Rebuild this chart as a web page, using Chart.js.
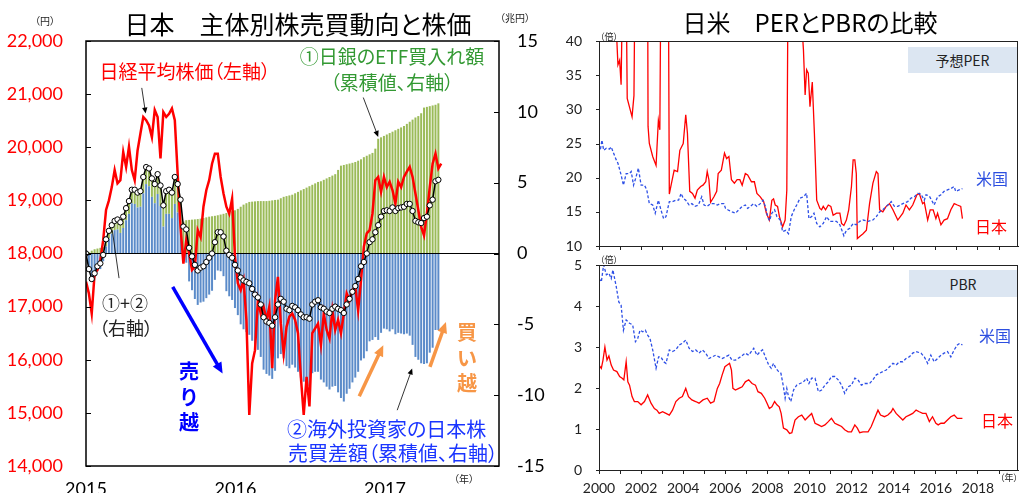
<!DOCTYPE html>
<html>
<head>
<meta charset="utf-8">
<script src="https://cdn.jsdelivr.net/npm/chart.js@4.4.1/dist/chart.umd.min.js"></script>
<style>
  body { margin: 0; width: 1019px; height: 493px; overflow: hidden; background: #fff; position: relative; }
  canvas { position: absolute; }
  .lbl { position: absolute; white-space: nowrap; line-height: 1; font-family: "Noto Sans CJK JP", sans-serif;
         font-feature-settings: "palt"; transform: translate(-50%, -50%); }
  .left { transform: translate(0, -50%); }
  .box { position: absolute; background: #dce6f2; font-family: "Noto Sans CJK JP", sans-serif; font-size: 14px;
         display: flex; align-items: center; justify-content: center; color: #222; }
  .vert { position: absolute; font-family: "Noto Sans CJK JP", sans-serif; font-weight: bold; font-size: 20px;
          line-height: 25.5px; width: 24px; text-align: center; }
</style>
</head>
<body>
<canvas id="left" width="560" height="493" style="left:0;top:0"></canvas>
<canvas id="per" width="459" height="256" style="left:560px;top:0"></canvas>
<canvas id="pbr" width="459" height="243" style="left:560px;top:250px"></canvas>

<!-- left chart texts -->
<div class="lbl" style="left:298px;top:23px;font-size:25px;color:#000">日本　主体別株売買動向と株価</div>
<div class="lbl" style="left:45px;top:21px;font-size:10px;color:#222">（円）</div>
<div class="lbl" style="left:515px;top:18px;font-size:10px;color:#222">（兆円）</div>
<div class="lbl" style="left:185px;top:70px;font-size:19px;color:#ff0000">日経平均株価（左軸）</div>
<div class="lbl" style="left:392px;top:55px;font-size:19px;color:#339933">①日銀のETF買入れ額</div>
<div class="lbl" style="left:392px;top:81px;font-size:19px;color:#339933">（累積値、右軸）</div>
<div class="lbl" style="left:125px;top:302px;font-size:18px;color:#222">①+②</div>
<div class="lbl" style="left:126px;top:327px;font-size:18px;color:#222">（右軸）</div>
<div class="vert" style="left:177px;top:358px;color:#0000ff">売<br>り<br>越</div>
<div class="vert" style="left:455px;top:319px;color:#f79646">買<br>い<br>越</div>
<div class="lbl left" style="left:287px;top:429px;font-size:20px;color:#1a35ff">②海外投資家の日本株</div>
<div class="lbl left" style="left:288px;top:453px;font-size:20px;color:#1a35ff">売買差額（累積値、右軸）</div>
<div class="lbl" style="left:464px;top:479px;font-size:10px;color:#222">（年）</div>

<!-- right chart texts -->
<div class="lbl" style="left:810px;top:22px;font-size:24px;color:#000">日米　PERとPBRの比較</div>
<div class="lbl" style="left:609px;top:36px;font-size:9px;color:#222">（倍）</div>
<div class="lbl" style="left:609px;top:259px;font-size:9px;color:#222">（倍）</div>
<div class="lbl" style="left:1009px;top:477px;font-size:9px;color:#222">（年）</div>
<div class="box" style="left:908px;top:47px;width:109px;height:26px">予想PER</div>
<div class="box" style="left:909px;top:270px;width:108px;height:27px">PBR</div>
<div class="lbl" style="left:992px;top:178px;font-size:16px;color:#2d4fe0">米国</div>
<div class="lbl" style="left:991px;top:226px;font-size:16px;color:#ff0000">日本</div>
<div class="lbl" style="left:995px;top:335px;font-size:16px;color:#2d4fe0">米国</div>
<div class="lbl" style="left:997px;top:420px;font-size:16px;color:#ff0000">日本</div>

<script>
// ---- left chart: weekly data from Jan 2015 (兆円 cumulative, Nikkei in yen) ----
const etfCum = [
  0.05, 0.1, 0.2, 0.3, 0.35, 0.4, 0.45, 0.5, 0.55, 0.6,
  0.65, 0.7, 0.75, 0.8, 0.85, 0.9, 0.95, 1.0, 1.05, 1.1,
  1.15, 1.2, 1.25, 1.3, 1.35, 1.4, 1.45, 1.5, 1.6, 1.7,
  1.8, 1.9, 2.0, 2.1, 2.25, 2.35, 2.37, 2.39, 2.41, 2.43,
  2.46, 2.5, 2.55, 2.6, 2.63, 2.66, 2.7, 2.75, 2.8, 2.86,
  2.92, 2.98, 3.05, 3.15, 3.3, 3.45, 3.55, 3.64, 3.66, 3.68,
  3.7, 3.7, 3.7, 3.7, 3.72, 3.75, 3.78, 3.8, 3.9, 4.0,
  4.05, 4.1, 4.15, 4.25, 4.35, 4.46, 4.55, 4.65, 4.75, 4.85,
  4.95, 5.05, 5.1, 5.2, 5.3, 5.4, 5.5, 5.6, 5.9, 6.2,
  6.25, 6.3, 6.35, 6.4, 6.46, 6.55, 6.65, 6.8, 6.9, 7.0,
  7.1, 7.4, 8.1, 8.2, 8.3, 8.4, 8.5, 8.6, 8.7, 8.8,
  8.9, 9.0, 9.15, 9.3, 9.45, 9.6, 9.7, 9.9, 10.3, 10.35,
  10.4, 10.45, 10.5, 10.6
];
const foreignCum = [
  -0.05, -1.2, -2.0, -1.7, -1.25, -1.1, -0.55, 0.5, 1.05, 1.4,
  1.65, 1.7, 1.45, 1.8, 2.35, 2.8, 3.55, 3.5, 3.25, 3.3,
  4.25, 4.9, 4.75, 4.0, 3.55, 4.2, 3.35, 1.9, 2.8, 2.8,
  2.5, 3.5, 2.9, 1.7, -0.35, -0.65, -1.97, -2.59, -3.21, -3.63,
  -3.46, -3.4, -3.15, -2.9, -2.63, -1.86, -1.2, -1.25, -1.6, -2.66,
  -3.02, -3.28, -3.85, -4.35, -5.0, -5.35, -5.55, -5.74, -6.16, -6.58,
  -6.8, -7.3, -8.2, -8.5, -8.62, -8.85, -8.28, -7.4, -7.1, -7.4,
  -7.95, -8.1, -7.85, -8.05, -8.35, -8.76, -9.05, -9.15, -9.35, -8.45,
  -8.35, -8.35, -8.9, -9.1, -9.4, -9.6, -9.4, -9.35, -9.8, -10.2,
  -10.45, -9.9, -9.55, -9.1, -8.76, -8.35, -7.55, -7.4, -6.9, -6.2,
  -6.1, -5.9, -6.1, -5.6, -5.3, -5.35, -5.5, -5.35, -5.7, -5.6,
  -5.65, -5.7, -5.65, -5.8, -6.45, -7.3, -7.5, -7.75, -7.8, -7.75,
  -7.0, -6.65, -5.4, -5.4
];
const nikkei = [
  17470, 17250, 16870, 17620, 17690, 17870, 18250, 18820, 19000, 19250,
  19570, 19320, 19380, 19910, 19630, 20010, 19570, 19380, 19940, 20260,
  20570, 20510, 20410, 20190, 20700, 20570, 19790, 20660, 20570, 20630,
  20730, 20510, 19500, 18500, 17810, 18250, 18000, 17690, 17750, 18440,
  18310, 18880, 19190, 19380, 19690, 19880, 19880, 19440, 19130, 18880,
  18750, 19030, 17940, 17440, 17310, 17500, 16750, 14960, 15930, 16180,
  17120, 16870, 17000, 16750, 17000, 15840, 17120, 17560, 16680, 16120,
  16620, 16810, 16870, 16750, 16500, 15680, 14960, 15680, 15120, 16500,
  16590, 16680, 16280, 16870, 16560, 16400, 16930, 16560, 16750, 16500,
  16870, 17250, 17120, 17310, 17370, 16930, 17500, 18130, 18380, 18440,
  18750, 19380, 19440, 19160, 19440, 19250, 19350, 19190, 18940, 19350,
  19250, 19440, 19540, 19630, 19440, 19130, 18820, 18500, 18340, 18750,
  19250, 19690, 19880, 19600, 19690
];
const leftYears = [2015, 2016, 2017];

// ---- right charts: [year, value] ----
const perJapan = [
  [2000.0, 80], [2000.5, 90], [2000.70, 50], [2000.90, 36.5], [2000.98, 37.2], [2001.05, 33.6],
  [2001.15, 55], [2001.27, 55], [2001.34, 31.6], [2001.57, 28.9], [2001.66, 32], [2001.74, 60],
  [2002.0, 90], [2002.30, 60], [2002.33, 27.5], [2002.39, 25], [2002.55, 23.1], [2002.71, 21.8],
  [2002.82, 28.4], [2002.89, 27], [2002.96, 60], [2003.1, 80], [2003.28, 60], [2003.34, 17.6],
  [2003.41, 18.7], [2003.57, 21.1], [2003.73, 20.9], [2003.84, 24], [2004.0, 25], [2004.12, 29.2],
  [2004.2, 26.5], [2004.31, 18], [2004.44, 17.7], [2004.56, 17], [2004.67, 18.2], [2004.83, 18.7],
  [2004.94, 18.9], [2005.07, 19.4], [2005.14, 20.9], [2005.22, 19.7], [2005.30, 16.4], [2005.46, 17.2],
  [2005.59, 18], [2005.66, 20.6], [2005.81, 21.1], [2005.96, 23.6], [2006.06, 22.8], [2006.17, 23.1],
  [2006.29, 19.7], [2006.43, 19.2], [2006.56, 19.7], [2006.69, 19.7], [2006.80, 18.9], [2006.95, 20.6],
  [2007.06, 20.4], [2007.24, 19.4], [2007.38, 19.4], [2007.50, 17.7], [2007.66, 17.2], [2007.82, 16.5],
  [2007.95, 14.8], [2008.09, 13.8], [2008.21, 16.7], [2008.29, 16.9], [2008.37, 16], [2008.48, 15.8],
  [2008.57, 14.3], [2008.72, 12.8], [2008.84, 13.8], [2008.92, 18.2], [2009.0, 60], [2009.3, 100],
  [2009.58, 45], [2009.71, 38.7], [2009.79, 32.1], [2009.86, 35.8], [2009.94, 35.3], [2010.02, 30.4],
  [2010.13, 34], [2010.23, 26.5], [2010.34, 16.7], [2010.49, 15.5], [2010.57, 15.3], [2010.65, 15.8],
  [2010.76, 15.3], [2010.89, 16], [2011.01, 15.8], [2011.12, 14.5], [2011.28, 14.8], [2011.44, 14.8],
  [2011.52, 13.3], [2011.63, 13], [2011.75, 13.8], [2011.86, 15.3], [2011.99, 18.7], [2012.07, 22.6],
  [2012.15, 22.6], [2012.22, 20.6], [2012.27, 11.1], [2012.38, 11.4], [2012.54, 11.8], [2012.70, 12.3],
  [2012.85, 16.2], [2013.01, 19.2], [2013.17, 20.9], [2013.25, 20.6], [2013.33, 15.3], [2013.48, 15],
  [2013.64, 15.8], [2013.80, 16.2], [2013.96, 15.3], [2014.19, 13.8], [2014.43, 14.8], [2014.58, 16],
  [2014.74, 15.3], [2014.90, 16], [2015.10, 17.5], [2015.21, 17.7], [2015.37, 16.2], [2015.45, 16.4],
  [2015.61, 13.8], [2015.73, 15.3], [2015.87, 15.3], [2016.0, 14], [2016.08, 14.8], [2016.24, 13.1],
  [2016.39, 13.8], [2016.55, 14], [2016.71, 15.3], [2016.87, 16.2], [2017.02, 16], [2017.18, 15.8],
  [2017.26, 14]
];
const perUS = [
  [2000.0, 24.5], [2000.06, 24], [2000.14, 25.5], [2000.22, 24], [2000.35, 24.3], [2000.5, 24.2],
  [2000.58, 24.5], [2000.69, 23.6], [2000.82, 22.6], [2000.90, 22.1], [2001.05, 20.4], [2001.16, 18.9],
  [2001.29, 20.6], [2001.45, 20.6], [2001.53, 20.9], [2001.64, 18.9], [2001.76, 20.1], [2001.87, 21.4],
  [2002.0, 18.9], [2002.16, 18.9], [2002.27, 18.2], [2002.39, 16.2], [2002.55, 16], [2002.67, 14.8],
  [2002.82, 16.7], [2002.94, 15.3], [2003.07, 14], [2003.18, 14.3], [2003.34, 16.5], [2003.49, 16.5],
  [2003.65, 16.7], [2003.78, 16.7], [2003.90, 17.7], [2004.0, 17], [2004.12, 16.7], [2004.28, 16],
  [2004.41, 16.2], [2004.56, 15.8], [2004.72, 16], [2004.88, 17.2], [2004.99, 16], [2005.14, 15.8],
  [2005.30, 16.2], [2005.46, 16.2], [2005.62, 16], [2005.77, 16.2], [2005.93, 16.2], [2006.01, 15.5],
  [2006.17, 15.2], [2006.32, 15], [2006.48, 14.8], [2006.64, 15.3], [2006.80, 15.8], [2006.95, 16],
  [2007.06, 15.5], [2007.19, 15.8], [2007.35, 16.2], [2007.50, 15.8], [2007.66, 16.2], [2007.79, 16.7],
  [2007.90, 15.8], [2008.01, 14.3], [2008.10, 13.7], [2008.21, 14.8], [2008.34, 15.3], [2008.45, 14.3],
  [2008.61, 13.8], [2008.72, 12.1], [2008.87, 12.3], [2009.0, 11.8], [2009.13, 14.3], [2009.27, 15.3],
  [2009.39, 16], [2009.55, 17], [2009.71, 17.2], [2009.86, 17.7], [2009.97, 14], [2010.10, 14.3],
  [2010.21, 14.8], [2010.34, 13.3], [2010.49, 12.8], [2010.65, 13.3], [2010.81, 14.3], [2010.97, 13.6],
  [2011.12, 13.6], [2011.28, 13.6], [2011.44, 13.1], [2011.63, 11.5], [2011.75, 12.3], [2011.91, 12.6],
  [2012.07, 13.3], [2012.22, 13.1], [2012.38, 13.6], [2012.54, 13.8], [2012.78, 13.6], [2013.01, 13.8],
  [2013.17, 14.3], [2013.33, 15], [2013.48, 15.3], [2013.72, 16], [2013.88, 16.5], [2014.03, 15.8],
  [2014.19, 15.8], [2014.43, 16.2], [2014.66, 16.5], [2014.82, 17], [2014.98, 17.2], [2015.14, 17.7],
  [2015.29, 17.6], [2015.45, 16.7], [2015.53, 17.5], [2015.69, 17.3], [2015.92, 16], [2016.08, 17.2],
  [2016.24, 17.5], [2016.39, 18], [2016.55, 18.2], [2016.71, 18.4], [2016.87, 18.7], [2016.94, 18],
  [2017.10, 18.2], [2017.26, 18.4]
];
const pbrJapan = [
  [2000.0, 2.56], [2000.11, 2.48], [2000.19, 2.68], [2000.28, 3.0], [2000.38, 2.68], [2000.47, 2.78],
  [2000.58, 2.56], [2000.69, 2.44], [2000.85, 2.4], [2000.98, 2.28], [2001.10, 2.24], [2001.18, 2.2],
  [2001.29, 2.64], [2001.37, 2.15], [2001.45, 2.07], [2001.57, 1.79], [2001.68, 1.67], [2001.84, 1.67],
  [2002.0, 1.59], [2002.16, 1.67], [2002.31, 1.83], [2002.47, 1.63], [2002.63, 1.5], [2002.75, 1.46],
  [2002.86, 1.38], [2003.02, 1.42], [2003.18, 1.38], [2003.34, 1.34], [2003.49, 1.46], [2003.65, 1.67],
  [2003.81, 1.75], [2003.96, 1.79], [2004.12, 1.99], [2004.25, 1.79], [2004.41, 1.71], [2004.59, 1.67],
  [2004.75, 1.63], [2004.94, 1.71], [2005.14, 1.75], [2005.30, 1.63], [2005.46, 1.67], [2005.62, 1.99],
  [2005.73, 2.11], [2005.85, 2.32], [2005.98, 2.52], [2006.09, 2.56], [2006.20, 2.6], [2006.29, 2.44],
  [2006.36, 1.99], [2006.48, 1.95], [2006.64, 1.99], [2006.80, 2.03], [2006.95, 2.15], [2007.11, 2.2],
  [2007.27, 2.11], [2007.43, 2.07], [2007.55, 1.91], [2007.71, 1.87], [2007.87, 1.75], [2007.98, 1.63],
  [2008.09, 1.5], [2008.21, 1.54], [2008.34, 1.67], [2008.45, 1.59], [2008.56, 1.54], [2008.65, 1.38],
  [2008.76, 1.02], [2008.92, 0.98], [2009.05, 0.89], [2009.16, 0.91], [2009.31, 1.22], [2009.47, 1.3],
  [2009.63, 1.34], [2009.79, 1.22], [2009.94, 1.3], [2010.10, 1.38], [2010.26, 1.14], [2010.42, 1.1],
  [2010.57, 1.06], [2010.73, 1.1], [2010.89, 1.18], [2011.04, 1.26], [2011.20, 1.14], [2011.36, 1.1],
  [2011.52, 1.06], [2011.67, 0.98], [2011.83, 0.93], [2011.99, 0.93], [2012.15, 1.1], [2012.27, 1.02],
  [2012.38, 0.91], [2012.54, 0.93], [2012.78, 0.93], [2012.93, 1.06], [2013.09, 1.26], [2013.25, 1.46],
  [2013.37, 1.34], [2013.56, 1.3], [2013.72, 1.34], [2013.88, 1.42], [2013.96, 1.5], [2014.11, 1.38],
  [2014.27, 1.3], [2014.43, 1.22], [2014.58, 1.3], [2014.74, 1.34], [2014.90, 1.38], [2015.06, 1.46],
  [2015.21, 1.42], [2015.37, 1.38], [2015.53, 1.38], [2015.69, 1.18], [2015.84, 1.3], [2016.0, 1.14],
  [2016.11, 1.1], [2016.24, 1.14], [2016.39, 1.14], [2016.55, 1.22], [2016.71, 1.3], [2016.87, 1.34],
  [2017.02, 1.26], [2017.26, 1.26]
];
const pbrUS = [
  [2000.0, 4.67], [2000.11, 4.59], [2000.22, 5.0], [2000.35, 4.76], [2000.47, 4.8], [2000.58, 4.67],
  [2000.66, 4.88], [2000.82, 4.47], [2000.94, 4.1], [2001.05, 4.02], [2001.16, 3.41], [2001.29, 3.66],
  [2001.45, 3.58], [2001.60, 3.54], [2001.73, 3.13], [2001.84, 3.21], [2001.95, 3.41], [2002.08, 3.37],
  [2002.20, 3.41], [2002.31, 3.29], [2002.42, 3.21], [2002.55, 2.93], [2002.71, 2.48], [2002.83, 2.76],
  [2002.94, 2.76], [2003.07, 2.64], [2003.18, 2.6], [2003.34, 2.93], [2003.49, 2.89], [2003.65, 2.93],
  [2003.81, 3.05], [2003.96, 3.09], [2004.12, 3.17], [2004.28, 2.97], [2004.44, 2.89], [2004.59, 2.93],
  [2004.75, 2.85], [2004.91, 2.93], [2005.07, 2.85], [2005.22, 2.72], [2005.38, 2.76], [2005.54, 2.8],
  [2005.70, 2.76], [2005.85, 2.72], [2006.01, 2.76], [2006.17, 2.8], [2006.32, 2.68], [2006.48, 2.68],
  [2006.72, 2.76], [2006.95, 2.85], [2007.11, 2.8], [2007.35, 2.97], [2007.50, 2.8], [2007.66, 2.89],
  [2007.77, 2.93], [2007.90, 2.76], [2008.06, 2.56], [2008.18, 2.48], [2008.29, 2.6], [2008.40, 2.48],
  [2008.53, 2.4], [2008.64, 2.36], [2008.76, 2.03], [2008.84, 1.75], [2008.92, 1.99], [2009.0, 1.79],
  [2009.11, 1.67], [2009.24, 1.95], [2009.39, 2.07], [2009.55, 2.11], [2009.71, 2.15], [2009.86, 2.24],
  [2009.97, 2.11], [2010.10, 2.24], [2010.26, 2.24], [2010.42, 1.91], [2010.57, 1.95], [2010.73, 2.07],
  [2010.89, 2.15], [2011.04, 2.28], [2011.20, 2.28], [2011.36, 2.2], [2011.52, 2.07], [2011.67, 1.87],
  [2011.83, 2.03], [2011.99, 2.07], [2012.15, 2.24], [2012.30, 2.2], [2012.46, 2.07], [2012.62, 2.11],
  [2012.85, 2.11], [2013.01, 2.2], [2013.17, 2.32], [2013.33, 2.36], [2013.48, 2.4], [2013.64, 2.44],
  [2013.80, 2.52], [2013.96, 2.6], [2014.11, 2.56], [2014.27, 2.64], [2014.43, 2.64], [2014.58, 2.72],
  [2014.74, 2.76], [2014.90, 2.85], [2015.06, 2.89], [2015.29, 2.85], [2015.45, 2.76], [2015.61, 2.6],
  [2015.76, 2.8], [2015.92, 2.64], [2016.08, 2.72], [2016.24, 2.8], [2016.39, 2.85], [2016.55, 2.89],
  [2016.71, 2.76], [2016.87, 2.93], [2017.02, 3.05], [2017.13, 3.09], [2017.26, 3.05]
];

// annotation arrows on the left chart, in data units (year, right-axis 兆円)
const arrowNotes = [
  { from: [2015.58, -2.36], to: [2015.914, -8.47], color: '#0000ff', width: 3.5, head: 11 },
  { from: [2016.828, -10.07], to: [2016.989, -6.47], color: '#f79646', width: 3.5, head: 11 },
  { from: [2017.301, -8.0], to: [2017.408, -4.83], color: '#f79646', width: 3.5, head: 11 },
  { from: [2015.373, 11.69], to: [2015.399, 9.88], color: '#000', width: 0.8, head: 6 },
  { from: [2016.855, 11.01], to: [2016.955, 8.23], color: '#000', width: 0.8, head: 6 },
  { from: [2017.082, -11.06], to: [2017.182, -8.12], color: '#000', width: 0.8, head: 6 },
  { from: [2015.221, -1.74], to: [2015.176, 1.64], color: '#000', width: 0.8, head: 0 }
];

const weekX = i => 2015 + i * 7 / 365.25;
const numFont = 'Lato';
const clear = 'rgba(0,0,0,0)';

function drawArrow(ctx, x1, y1, x2, y2, color, width, head) {
  const ang = Math.atan2(y2 - y1, x2 - x1);
  const ex = x2 - Math.cos(ang) * head * 0.8, ey = y2 - Math.sin(ang) * head * 0.8;
  ctx.strokeStyle = color; ctx.fillStyle = color; ctx.lineWidth = width;
  ctx.beginPath(); ctx.moveTo(x1, y1); ctx.lineTo(head ? ex : x2, head ? ey : y2); ctx.stroke();
  if (!head) return;
  const hw = Math.max(head * 0.45, width * 1.3);
  ctx.beginPath();
  ctx.moveTo(x2, y2);
  ctx.lineTo(x2 - Math.cos(ang) * head + Math.sin(ang) * hw, y2 - Math.sin(ang) * head - Math.cos(ang) * hw);
  ctx.lineTo(x2 - Math.cos(ang) * head - Math.sin(ang) * hw, y2 - Math.sin(ang) * head + Math.cos(ang) * hw);
  ctx.closePath(); ctx.fill();
}

// frame, inward ticks and arrows for the left chart
const leftDecor = {
  id: 'leftDecor',
  afterDraw(chart) {
    const { ctx, chartArea: a, scales } = chart;
    ctx.save();
    ctx.strokeStyle = '#000'; ctx.lineWidth = 1.5;
    ctx.strokeRect(a.left, a.top, a.right - a.left, a.bottom - a.top);
    ctx.lineWidth = 1;
    ctx.beginPath();
    scales.yL.ticks.forEach(t => {
      const y = Math.round(scales.yL.getPixelForValue(t.value)) + 0.5;
      ctx.moveTo(a.left, y); ctx.lineTo(a.left + 5, y);
    });
    scales.yR.ticks.forEach(t => {
      const y = Math.round(scales.yR.getPixelForValue(t.value)) + 0.5;
      ctx.moveTo(a.right - 5, y); ctx.lineTo(a.right, y);
    });
    ctx.stroke();
    arrowNotes.forEach(n => {
      drawArrow(ctx,
        scales.x.getPixelForValue(n.from[0]), scales.yR.getPixelForValue(n.from[1]),
        scales.x.getPixelForValue(n.to[0]), scales.yR.getPixelForValue(n.to[1]),
        n.color, n.width, n.head);
    });
    ctx.restore();
  }
};

new Chart(document.getElementById('left'), {
  data: {
    datasets: [
      { type: 'bar', data: foreignCum.map((v, i) => ({ x: weekX(i), y: v })), backgroundColor: '#5b8bc9',
        yAxisID: 'yR', stack: 's', order: 2, barPercentage: 0.7, categoryPercentage: 1 },
      { type: 'bar', data: etfCum.map((v, i) => ({ x: weekX(i), y: v })), backgroundColor: '#9bbb59',
        yAxisID: 'yR', stack: 's', order: 2, barPercentage: 0.7, categoryPercentage: 1 },
      { type: 'line', data: nikkei.map((v, i) => ({ x: weekX(i), y: v })), borderColor: '#ff0000',
        borderWidth: 2.5, pointRadius: 0, yAxisID: 'yL', order: 1 },
      { type: 'line', data: etfCum.map((v, i) => ({ x: weekX(i), y: +(v + foreignCum[i]).toFixed(2) })),
        borderColor: '#000', borderWidth: 1.5, pointRadius: 2.7, pointBackgroundColor: '#fff',
        pointBorderColor: '#000', pointBorderWidth: 1, yAxisID: 'yR', order: 0 }
    ]
  },
  options: {
    responsive: false, animation: false,
    plugins: { legend: { display: false }, tooltip: { enabled: false } },
    layout: { padding: { top: 41, left: 0, right: 0, bottom: 0 } },
    scales: {
      x: {
        type: 'linear', min: 2015, max: 2017.763, offset: false,
        afterBuildTicks: s => { s.ticks = leftYears.map(v => ({ value: v })); },
        afterFit: s => { s.height = 27; },
        grid: { display: false, offset: false }, border: { display: false },
        ticks: { padding: 4, color: '#000', font: { family: numFont, size: 18 }, maxRotation: 0, autoSkip: false,
                 callback: v => String(v) }
      },
      yL: {
        position: 'left', min: 14000, max: 22000,
        afterFit: s => { s.width = 86; },
        grid: { drawOnChartArea: false, drawTicks: true, tickLength: 22, tickColor: clear, color: clear },
        border: { display: false },
        ticks: { stepSize: 1000, color: '#ff0000', padding: 1, font: { family: numFont, size: 18 },
                 callback: v => v.toLocaleString('en-US') }
      },
      yR: {
        position: 'right', min: -15, max: 15, beginAtZero: false,
        afterFit: s => { s.width = 61; },
        grid: { color: c => (c.tick && c.tick.value === 0) ? '#000' : clear, drawTicks: true,
                tickLength: 17, tickColor: clear, lineWidth: 1 },
        border: { display: false },
        ticks: { stepSize: 5, color: '#000', padding: 1, font: { family: numFont, size: 18 } }
      }
    }
  },
  plugins: [leftDecor]
});

// ---- right panels ----
const frame = {
  id: 'frame',
  afterDraw(chart) {
    const { ctx, chartArea: a, scales } = chart;
    ctx.save();
    ctx.strokeStyle = '#222'; ctx.lineWidth = 1;
    ctx.strokeRect(Math.round(a.left) + 0.5, Math.round(a.top) + 0.5, Math.round(a.right - a.left) - 1, Math.round(a.bottom - a.top));
    ctx.beginPath();
    scales.y.ticks.forEach(t => {
      const y = Math.round(scales.y.getPixelForValue(t.value)) + 0.5;
      ctx.moveTo(a.left - 3, y); ctx.lineTo(a.left, y);
    });
    ctx.stroke();
    ctx.restore();
  }
};

function panel(id, jp, us, yMin, yMax, step, pad, xHeight, showLabels) {
  new Chart(document.getElementById(id), {
    type: 'line',
    data: {
      datasets: [
        { data: us.map(p => ({ x: p[0], y: p[1] })), borderColor: '#2d4fe6', borderWidth: 1.3,
          borderDash: [3, 2], pointRadius: 0 },
        { data: jp.map(p => ({ x: p[0], y: p[1] })), borderColor: '#ff0000', borderWidth: 1.3, pointRadius: 0 }
      ]
    },
    options: {
      responsive: false, animation: false,
      plugins: { legend: { display: false }, tooltip: { enabled: false } },
      layout: { padding: { top: pad, right: 1, left: 0, bottom: 0 } },
      scales: {
        x: {
          type: 'linear', min: 2000, max: 2019.9,
          afterBuildTicks: s => { const t = []; for (let y = 2000; y <= 2019; y++) t.push({ value: y }); s.ticks = t; },
          afterFit: s => { s.height = xHeight; },
          grid: { drawOnChartArea: false, drawTicks: true, tickLength: 4, color: '#222' },
          border: { display: true, color: '#222' },
          ticks: { display: showLabels, padding: 6, color: '#222', font: { family: numFont, size: 14 },
                   maxRotation: 0, autoSkip: false, callback: v => (v % 2 === 0 ? String(v) : '') }
        },
        y: {
          min: yMin, max: yMax,
          afterFit: s => { s.width = 39; },
          grid: { drawOnChartArea: false, drawTicks: true, tickLength: 16, tickColor: clear, color: clear },
          border: { display: true, color: '#222' },
          ticks: { stepSize: step, padding: 1, color: '#222', font: { family: numFont, size: 14 } }
        }
      }
    },
    plugins: [frame]
  });
}

panel('per', perJapan, perUS, 10, 40, 5, 41, 10, false);
panel('pbr', pbrJapan, pbrUS, 0, 5, 1, 15, 23, true);
</script>
</body>
</html>
